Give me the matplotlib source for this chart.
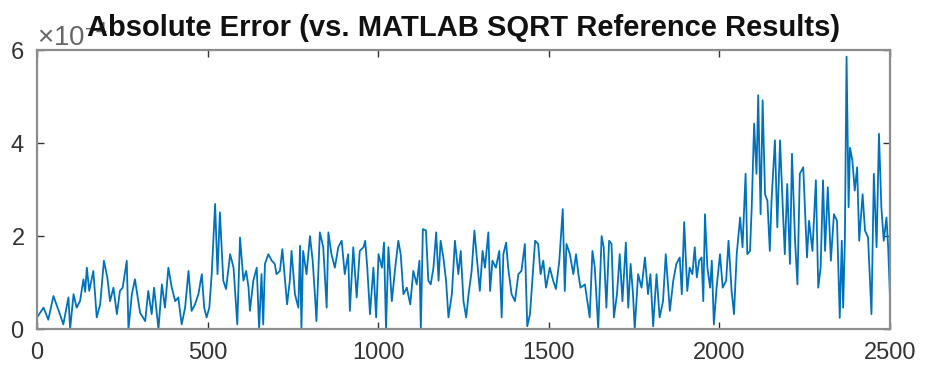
import matplotlib
matplotlib.use("Agg")
import matplotlib.pyplot as plt
from matplotlib.ticker import ScalarFormatter

# sample index and absolute error (in units of 1e-4)
sample_idx = [
    0, 19, 33, 48, 67, 77, 92, 97, 107, 116, 126, 136, 141, 146, 153, 165, 175, 185, 196, 206,
    214, 224, 234, 243, 251, 263, 268, 278, 287, 302,
    317, 326, 336, 343, 356, 366, 375, 385, 395, 405, 414, 424, 434, 444, 453, 463, 473, 483,
    490, 497, 505, 512, 522, 529, 536, 546, 554, 566, 576, 587, 595, 605, 613, 620, 624, 634,
    644, 651, 658, 663, 668, 678, 688, 697, 702, 712, 719, 727, 733, 741, 746, 756, 766, 771,
    775, 780, 790, 800, 808, 815, 819, 829, 839, 849, 854, 863, 873, 883, 893, 902, 912, 917,
    927, 937, 946,
    957, 962, 968, 976, 986, 994, 1001, 1011, 1017, 1023, 1030, 1040, 1050, 1059, 1066, 1074,
    1084, 1094, 1103, 1113, 1121, 1125, 1131, 1140, 1147, 1154, 1162, 1170, 1177, 1183, 1191,
    1199, 1206, 1216, 1225, 1235, 1242, 1250, 1258, 1265, 1274, 1282,
    1290, 1298, 1306, 1313, 1323, 1328, 1335, 1345, 1355, 1362, 1367, 1375, 1381, 1391, 1401,
    1411, 1420, 1430, 1437, 1445, 1453, 1460, 1469, 1476, 1484, 1492, 1503, 1513, 1521, 1531,
    1541, 1547, 1552, 1562, 1572, 1580, 1587, 1593, 1606,
    1620, 1628, 1635, 1645, 1655, 1661, 1669, 1677, 1684, 1691, 1700, 1708, 1716, 1726, 1733,
    1740, 1747, 1752, 1762, 1772, 1782, 1791, 1798, 1806, 1816, 1825, 1835, 1843, 1855, 1865,
    1874, 1884, 1890, 1897, 1906, 1913, 1921, 1928,
    1934, 1941, 1948, 1953, 1958, 1965, 1973, 1978, 1984, 1992, 2002, 2010, 2020, 2027, 2036,
    2043, 2051, 2061, 2068, 2077, 2082, 2090, 2095, 2102, 2109, 2114, 2121, 2127, 2134, 2141,
    2148, 2153, 2163, 2170, 2178, 2186, 2192, 2199, 2207, 2213, 2222, 2229, 2236, 2246,
    2257, 2263, 2273, 2283, 2290, 2297, 2304, 2310, 2318, 2327, 2336, 2345, 2353, 2359, 2363,
    2368, 2373, 2379, 2383, 2390, 2397, 2404, 2410, 2420, 2427, 2436, 2446, 2453, 2461, 2468,
    2475, 2482, 2490, 2495, 2500,
]
abs_err_e4 = [
    0.25, 0.46, 0.2, 0.71, 0.32, 0.1, 0.68, 0.0, 0.75, 0.46, 0.6, 1.07, 0.8, 1.32, 0.82, 1.25,
    0.25, 0.53, 1.47, 1.11, 0.6, 0.89, 0.32, 0.82, 0.89, 1.47, 0.0, 0.75, 1.07, 0.35,
    0.17, 0.82, 0.32, 0.89, 0.0, 0.96, 0.46, 1.32, 0.89, 0.6, 0.68, 0.1, 0.46, 1.25, 0.39, 0.53,
    0.75, 1.18, 0.46, 0.25, 0.46, 1.18, 2.69, 1.18, 2.51, 1.04, 0.86, 1.61, 1.32, 0.1, 1.97,
    1.04, 1.25, 0.89, 0.39, 1.04,
    1.32, 0.0, 1.18, 0.1, 1.4, 1.61, 1.47, 1.4, 1.18, 1.25, 1.72, 1.04, 0.53, 1.04, 1.68, 0.75,
    0.46, 1.79, 0.0, 1.68, 1.18, 2.0, 1.47, 0.68, 0.17, 2.08, 1.76, 0.46, 2.08, 1.61, 1.32,
    1.76, 1.9, 1.18, 1.61, 0.39, 1.76, 0.68, 1.68,
    1.76, 1.9, 1.32, 0.32, 1.32, 0.25, 1.61, 1.32, 1.86, 0.0, 1.76, 0.6, 1.32, 1.9, 1.61, 0.75,
    0.89, 0.53, 1.25, 0.96, 1.47, 0.0, 2.15, 2.12, 1.04, 0.96, 1.32, 2.08, 1.04, 1.9, 1.54,
    1.04, 0.25, 0.75, 1.9, 1.18, 1.68, 0.6, 0.25, 0.75, 1.25, 2.12,
    1.47, 0.82, 1.68, 1.32, 2.08, 0.82, 1.47, 1.32, 1.68, 0.25, 1.61, 1.86, 1.32, 0.75, 0.6,
    1.18, 1.25, 1.83, 0.06, 0.32, 1.18, 1.9, 1.83, 1.18, 1.47, 0.89, 1.32, 1.04, 0.86, 1.47,
    2.58, 0.82, 1.83, 1.61, 1.18, 1.61, 1.18, 0.89, 0.96,
    0.25, 1.68, 1.32, 0.0, 2.0, 1.76, 0.46, 1.9, 1.83, 0.25, 0.75, 1.61, 0.6, 1.86, 0.46, 1.4,
    0.75, 0.0, 1.18, 0.89, 1.54, 0.75, 1.18, 0.06, 1.18, 0.25, 0.6, 1.61, 0.39, 1.04, 1.4,
    1.54, 0.75, 2.3, 0.82, 1.32, 1.18, 1.76,
    1.11, 1.47, 1.54, 0.6, 2.47, 1.32, 0.89, 1.47, 0.1, 0.89, 1.61, 0.89, 1.04, 1.9, 0.82,
    0.32, 1.61, 2.4, 1.76, 3.34, 1.61, 1.68, 2.62, 4.42, 3.34, 5.03, 2.47, 4.92, 2.9, 2.76,
    1.68, 2.76, 4.06, 2.19, 4.06, 2.62, 1.61, 3.12, 1.4, 3.77, 1.9, 0.96, 3.34, 3.48,
    1.54, 2.33, 1.68, 3.2, 0.89, 1.32, 3.2, 1.68, 3.05, 1.47, 2.47, 2.33, 0.24, 1.9, 0.46,
    1.9, 5.86, 2.62, 3.9, 3.63, 2.98, 3.48, 1.9, 2.9, 2.12, 1.97, 0.32, 3.34, 1.76, 4.2,
    2.62, 1.9, 2.4, 1.76, 0.75,
]
x_ticks = [0, 500, 1000, 1500, 2000, 2500]
y_ticks_e4 = [0, 2, 4, 6]
scale = 1e-4

plt.rcParams['font.family'] = ['Liberation Sans', 'DejaVu Sans']
plt.rcParams['mathtext.fontset'] = 'custom'
plt.rcParams['mathtext.rm'] = 'Liberation Sans'

fig = plt.figure(figsize=(9.26, 3.66), dpi=100)
ax = fig.add_axes([0.040, 0.101, 0.921, 0.762])

ax.plot(sample_idx, [v * scale for v in abs_err_e4], color='#0072BD', lw=1.3)

ax.set_xlim(0, 2500)
ax.set_ylim(0, 6 * scale)
ax.set_xticks(x_ticks)
ax.set_yticks([v * scale for v in y_ticks_e4])

fmt = ScalarFormatter(useMathText=True)
fmt.set_powerlimits((0, 0))
ax.yaxis.set_major_formatter(fmt)

ax.tick_params(direction='in', length=5, width=1.0, colors='#333333',
               labelsize=17, top=True, right=True)
ax.tick_params(axis='x', pad=9)
ax.tick_params(axis='y', pad=9)
for s in ax.spines.values():
    s.set_color('#8c8c8c')
    s.set_linewidth(1.6)

off = ax.yaxis.get_offset_text()
off.set_fontsize(20)
off.set_color('#666666')

# fixed y keeps the title from being pushed above the exponent label
ax.set_title('Absolute Error (vs. MATLAB SQRT Reference Results)',
             fontsize=21, fontweight='bold', pad=10, y=1.0, color='#111111')

fig.savefig('out.png', dpi=100)
